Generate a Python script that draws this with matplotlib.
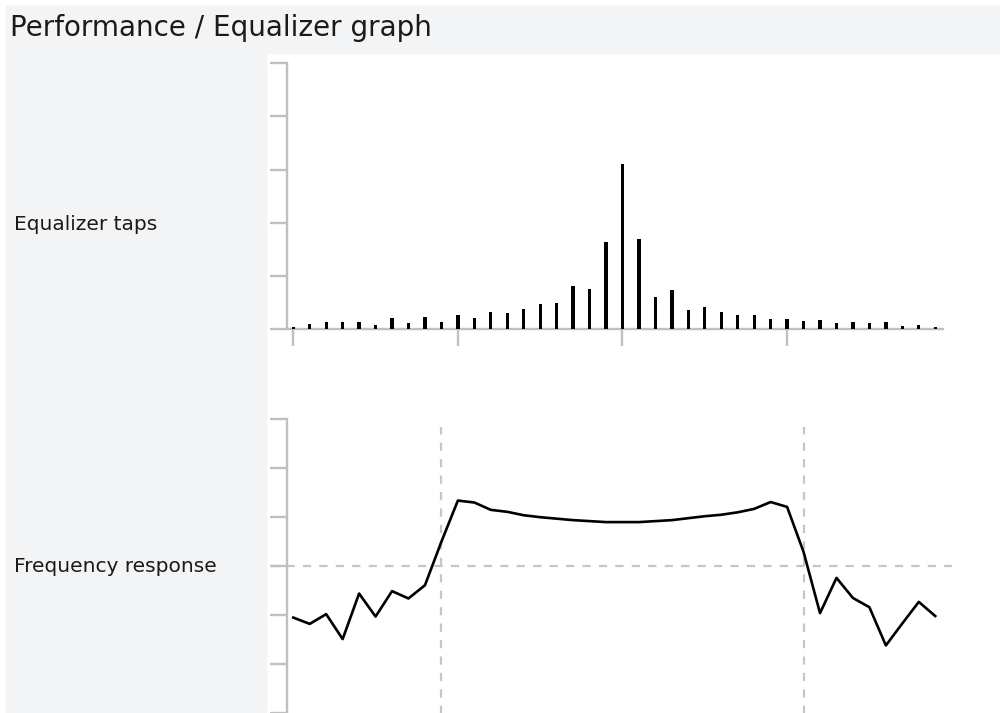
import matplotlib
matplotlib.use("Agg")
from matplotlib import pyplot
from matplotlib.patches import Rectangle

# equalizer tap magnitudes, index 0..39
tap_index = list(range(40))
taps = [0.05, 0.10, 0.14, 0.14, 0.13, 0.075, 0.22, 0.11, 0.23, 0.14,
        0.26, 0.21, 0.33, 0.30, 0.39, 0.48, 0.49, 0.81, 0.76, 1.63,
        3.11, 1.70, 0.60, 0.74, 0.36, 0.41, 0.33, 0.26, 0.26, 0.20,
        0.20, 0.16, 0.17, 0.11, 0.14, 0.11, 0.14, 0.06, 0.08, 0.04]

# frequency response over the same 40 bins
response = [-1.05, -1.18, -0.98, -1.49, -0.56, -1.03, -0.51, -0.66, -0.39, 0.50,
            1.34, 1.30, 1.15, 1.11, 1.04, 1.00, 0.97, 0.94, 0.92, 0.90,
            0.90, 0.90, 0.92, 0.94, 0.98, 1.02, 1.05, 1.10, 1.17, 1.31,
            1.21, 0.29, -0.96, -0.24, -0.65, -0.84, -1.62, -1.17, -0.73, -1.02]

tap_ticks = [0, 10, 20, 30]
response_ticks = [-3, -2, -1, 0, 1, 2, 3]
band_edges = [9, 31]

title = "Performance / Equalizer graph"
taps_label = "Equalizer taps"
response_label = "Frequency response"

panel_grey = "#f3f4f6"
axis_grey = "#c0c0c0"
guide_grey = "#c6c6c6"
text_color = "#1a1a1a"

W, H = 1000, 713
figure = pyplot.figure(figsize=(W / 100, H / 100), dpi=100, facecolor="white")


def fx(px):
    return px / W


def fy(py):
    return (H - py) / H


# header strip and left label column
figure.patches.append(Rectangle((fx(6), fy(53)), 1 - fx(6), fy(6) - fy(53),
                                transform=figure.transFigure, color=panel_grey, zorder=0))
figure.patches.append(Rectangle((fx(6), 0), fx(266) - fx(6), fy(53),
                                transform=figure.transFigure, color=panel_grey, zorder=0))

figure.text(fx(10), fy(36), title, fontsize=20, color=text_color, va="baseline")
figure.text(fx(14), fy(230), taps_label, fontsize=14.5, color=text_color, va="baseline")
figure.text(fx(14), fy(572), response_label, fontsize=14.5, color=text_color, va="baseline")

xlim = (-0.38, 39.47)

# taps
ax1 = figure.add_axes([fx(287), fy(329.3), fx(943) - fx(287), fy(63) - fy(329.3)])
ax1.set_facecolor("none")
ax1.bar(tap_index, taps, width=0.2, color="black", zorder=3)
ax1.set_xlim(*xlim)
ax1.set_ylim(0, 5)
ax1.set_xticks(tap_ticks)
ax1.set_yticks(range(6))
ax1.tick_params(axis="both", length=12, width=1.7, color=axis_grey,
                labelleft=False, labelbottom=False)
for side in ("top", "right"):
    ax1.spines[side].set_visible(False)
for side in ("left", "bottom"):
    ax1.spines[side].set_color(axis_grey)
    ax1.spines[side].set_linewidth(1.7)

# frequency response
ax2 = figure.add_axes([fx(287), 0, fx(943) - fx(287), fy(419.3)])
ax2.set_facecolor("none")
ax2.plot(tap_index, response, color="black", lw=1.9, zorder=3)
ax2.axhline(0, xmin=-0.026, xmax=1.014, color=guide_grey, lw=1.6,
            linestyle=(0, (3.7, 3.7)), clip_on=False, zorder=1)
for edge in band_edges:
    ax2.vlines(edge, -3.2, 2.84, color=guide_grey, lw=1.6,
               linestyle=(0, (3.7, 3.7)), clip_on=False, zorder=1)
ax2.set_xlim(*xlim)
ax2.set_ylim(-3, 3)
ax2.set_xticks([])
ax2.set_yticks(response_ticks)
ax2.tick_params(axis="y", length=12, width=1.7, color=axis_grey, labelleft=False)
for side in ("top", "right", "bottom"):
    ax2.spines[side].set_visible(False)
ax2.spines["left"].set_color(axis_grey)
ax2.spines["left"].set_linewidth(1.7)

pyplot.savefig("out.png", dpi=100, facecolor="white")
